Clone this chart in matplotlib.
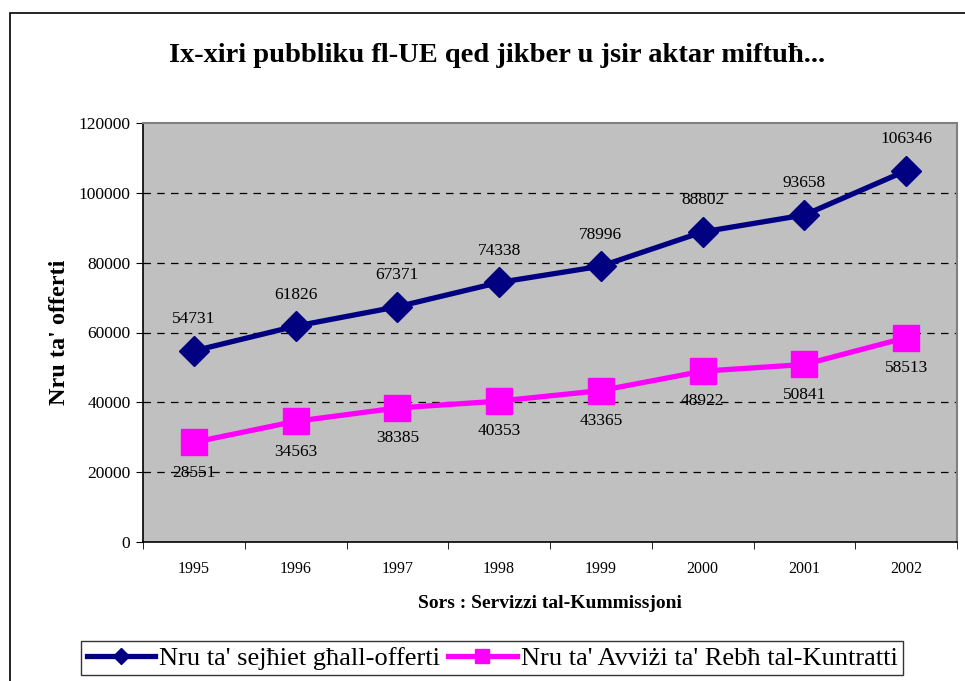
import numpy as np
import matplotlib
matplotlib.use('Agg')
import matplotlib.pyplot as plt
from matplotlib.patches import Rectangle

# data
years = ['1995', '1996', '1997', '1998', '1999', '2000', '2001', '2002']
calls = [54731, 61826, 67371, 74338, 78996, 88802, 93658, 106346]
notices = [28551, 34563, 38385, 40353, 43365, 48922, 50841, 58513]
y_ticks = [0, 20000, 40000, 60000, 80000, 100000, 120000]

title = "Ix-xiri pubbliku fl-UE qed jikber u jsir aktar miftuħ..."
ylabel = "Nru ta' offerti"
source = "Sors : Servizzi tal-Kummissjoni"
labels = ["Nru ta' sejħiet għall-offerti", "Nru ta' Avviżi ta' Rebħ tal-Kuntratti"]

blue = '#000080'
pink = '#FF00FF'

plt.rcParams['font.family'] = ['Liberation Serif', 'DejaVu Serif']

fig = plt.figure(figsize=(9.65, 6.81), dpi=100)
# outer chart frame
fig.patches.append(Rectangle((10 / 965, -0.05), 1.0, 1 - 13 / 681 + 0.05,
                             transform=fig.transFigure, fill=False,
                             edgecolor='black', lw=1.2))

ax = fig.add_axes([143 / 965, 1 - 542 / 681, (957 - 143) / 965, (542 - 123) / 681])
ax.set_facecolor('#C0C0C0')

x = np.arange(len(years))
ax.plot(x, calls, color=blue, lw=3.8, marker='D', ms=15, zorder=3,
        label=labels[0])
ax.plot(x, notices, color=pink, lw=3.8, marker='s', ms=19, zorder=3,
        label=labels[1])

for xi, v in zip(x, calls):
    ax.annotate(str(v), (xi, v), xytext=(0, 17), textcoords='offset points',
                ha='center', va='bottom', fontsize=12.5)
for xi, v in zip(x, notices):
    ax.annotate(str(v), (xi, v), xytext=(0, -16), textcoords='offset points',
                ha='center', va='top', fontsize=12.5)

ax.set_xlim(-0.5, len(years) - 0.5)
ax.set_ylim(0, 120000)
ax.set_yticks(y_ticks)
ax.set_yticklabels([str(t) for t in y_ticks], fontsize=12.5)
ax.set_xticks(x)
ax.set_xticklabels(years, fontsize=11.5)
ax.set_xticks(np.arange(len(years) + 1) - 0.5, minor=True)
ax.tick_params(axis='x', which='major', length=0, pad=14)
ax.tick_params(axis='x', which='minor', length=5, direction='out')
ax.tick_params(axis='y', length=5, direction='out', pad=4)

for t in y_ticks[1:-1]:
    ax.axhline(t, color='black', lw=0.9, ls=(0, (6, 5)), zorder=1)

for s in ['top', 'right']:
    ax.spines[s].set_color('#808080')
    ax.spines[s].set_linewidth(1.5)
for s in ['left', 'bottom']:
    ax.spines[s].set_color('black')
    ax.spines[s].set_linewidth(1.2)

ax.set_ylabel(ylabel, fontsize=17.5, fontweight='bold', labelpad=6)
ax.set_xlabel(source, fontsize=14, fontweight='bold', labelpad=13)
fig.text(497 / 965, 1 - 55 / 681, title, ha='center', va='center',
         fontsize=20.5, fontweight='bold')

leg = fig.legend(loc='center', bbox_to_anchor=(492 / 965, 1 - 658 / 681),
                 ncol=2, fontsize=19, frameon=True, fancybox=False,
                 edgecolor='black', handlelength=2.6, columnspacing=0.3,
                 handletextpad=0.15, borderpad=0.2, borderaxespad=0,
                 markerscale=0.55)
leg.get_frame().set_linewidth(1.0)

fig.savefig('out.png', dpi=100)
